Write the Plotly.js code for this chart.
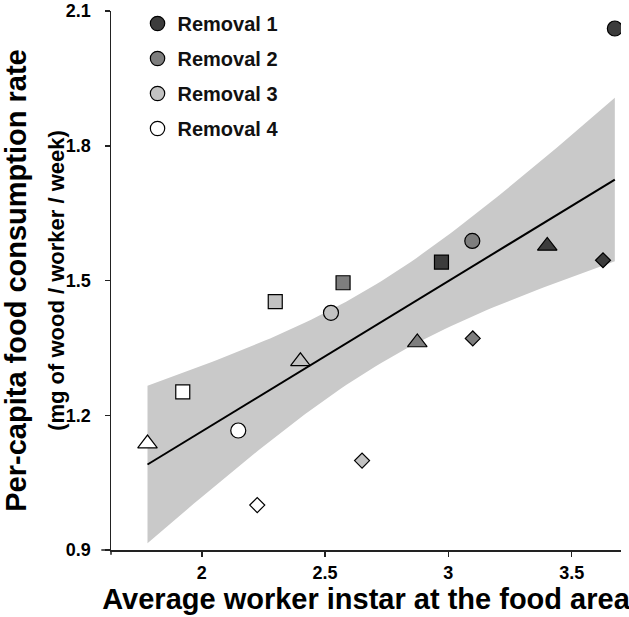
<!DOCTYPE html>
<html><head><meta charset="utf-8">
<script src="https://cdn.plot.ly/plotly-3.0.1.min.js"></script>
<style>html,body{margin:0;padding:0;background:#fff;} #chart{width:629px;height:617px;}</style>
</head><body><div id="chart"></div>
<script>
// ---- data ----
const removals = ['Removal 1', 'Removal 2', 'Removal 3', 'Removal 4'];
const symbols = ['circle', 'square', 'triangle-up', 'diamond'];
// average worker instar (x) and per-capita consumption (y), one pair of arrays per removal
const instar1 = [3.675, 2.972, 3.401, 3.627];
const rate1   = [2.061, 1.541, 1.577, 1.545];
const instar2 = [3.097, 2.573, 2.874, 3.099];
const rate2   = [1.588, 1.495, 1.362, 1.371];
const instar3 = [2.524, 2.298, 2.400, 2.650];
const rate3   = [1.428, 1.453, 1.320, 1.099];
const instar4 = [2.148, 1.923, 1.780, 2.225];
const rate4   = [1.166, 1.252, 1.137, 1.000];
const xTickVals = [2, 2.5, 3, 3.5];
const xTickText = ['2', '2.5', '3', '3.5'];
const yTickVals = [0.9, 1.2, 1.5, 1.8, 2.1];
const yTickText = ['0.9', '1.2', '1.5', '1.8', '2.1'];

// ---- styles ----
const fillColors = ['#3c3c3c', '#7e7e7e', '#c2c2c2', '#ffffff'];
const markerSizes = [15, 14, 17, 11.5];
const bandColor = '#c9c9c9';
const axisColor = '#222222';
const FONT = 'Liberation Sans, Arial, Helvetica, sans-serif';

const xs = [instar1, instar2, instar3, instar4];
const ys = [rate1, rate2, rate3, rate4];

// ---- OLS fit with 95% confidence band on all points ----
const allX = [].concat(...xs), allY = [].concat(...ys);
const n = allX.length;
const mx = allX.reduce((a, b) => a + b, 0) / n;
const my = allY.reduce((a, b) => a + b, 0) / n;
let sxx = 0, sxy = 0;
for (let i = 0; i < n; i++) { sxx += (allX[i] - mx) ** 2; sxy += (allX[i] - mx) * (allY[i] - my); }
const slope = sxy / sxx, icpt = my - slope * mx;
let sse = 0;
for (let i = 0; i < n; i++) sse += (allY[i] - icpt - slope * allX[i]) ** 2;
const s = Math.sqrt(sse / (n - 2));
const tCrit = 2.145; // t(0.975, df = 14)
const xMin = Math.min(...allX), xMax = Math.max(...allX);
const gx = [], lo = [], hi = [];
const steps = 80;
for (let k = 0; k <= steps; k++) {
  const x = xMin + (xMax - xMin) * k / steps;
  const fit = icpt + slope * x;
  const se = s * Math.sqrt(1 / n + (x - mx) ** 2 / sxx);
  gx.push(x); lo.push(fit - tCrit * se); hi.push(fit + tCrit * se);
}

const traces = [];
traces.push({
  x: gx.concat(gx.slice().reverse()),
  y: hi.concat(lo.slice().reverse()),
  type: 'scatter', mode: 'lines', fill: 'toself', fillcolor: bandColor,
  line: {width: 0, color: bandColor}, showlegend: false, hoverinfo: 'skip'
});
traces.push({
  x: [xMin, xMax], y: [icpt + slope * xMin, icpt + slope * xMax],
  type: 'scatter', mode: 'lines', line: {color: '#000', width: 2},
  showlegend: false, hoverinfo: 'skip'
});
for (let r = 0; r < 4; r++) {
  traces.push({
    x: xs[r], y: ys[r], name: removals[r], legendgroup: 'g' + r,
    type: 'scatter', mode: 'markers',
    marker: {symbol: symbols, size: markerSizes, color: fillColors[r], opacity: 1,
             line: {color: '#000', width: 1.2}}
  });
}

const layout = {
  width: 629, height: 617,
  margin: {l: 111, r: 8, t: 11, b: 67, pad: 0, autoexpand: false},
  paper_bgcolor: '#fff', plot_bgcolor: '#fff',
  font: {family: FONT, color: '#000'},
  showlegend: true,
  legend: {x: 0.052, y: 1.013, xanchor: 'left', yanchor: 'top', bgcolor: 'rgba(0,0,0,0)',
           font: {size: 20, weight: 'bold', family: FONT, color: '#111'},
           traceorder: 'grouped', tracegroupgap: 6},
  xaxis: {
    range: [1.632, 3.70], tickmode: 'array', tickvals: xTickVals, ticktext: xTickText,
    ticks: 'outside', ticklen: 5, tickwidth: 1.5, tickcolor: axisColor,
    showline: true, linecolor: axisColor, linewidth: 1.5, showgrid: false, zeroline: false,
    tickfont: {size: 18, weight: 'bold', family: FONT}, ticklabelstandoff: 1,
    title: {text: 'Average worker instar at the food area', standoff: 0,
            font: {size: 29, weight: 'bold', family: FONT}}
  },
  yaxis: {
    range: [0.9, 2.1], tickmode: 'array', tickvals: yTickVals, ticktext: yTickText,
    ticks: 'outside', ticklen: 5, tickwidth: 1.5, tickcolor: axisColor,
    showline: true, linecolor: axisColor, linewidth: 1.5, showgrid: false, zeroline: false,
    tickfont: {size: 18, weight: 'bold', family: FONT}, ticklabelstandoff: 10,
    title: {text: 'Per-capita food consumption rate<br><span style="font-size:22px">(mg of wood / worker / week)</span>',
            standoff: 6, font: {size: 29, weight: 'bold', family: FONT}}
  },
  shapes: [
    {type: 'line', xref: 'paper', yref: 'paper', x0: -0.019, x1: 0, y0: 0, y1: 0,
     line: {color: axisColor, width: 1.5}},
    {type: 'line', xref: 'paper', yref: 'paper', x0: 0, x1: 0, y0: 0, y1: -0.009,
     line: {color: axisColor, width: 1.5}}
  ]
};

Plotly.newPlot('chart', traces, layout, {staticPlot: true, displayModeBar: false});
</script>
</body></html>
